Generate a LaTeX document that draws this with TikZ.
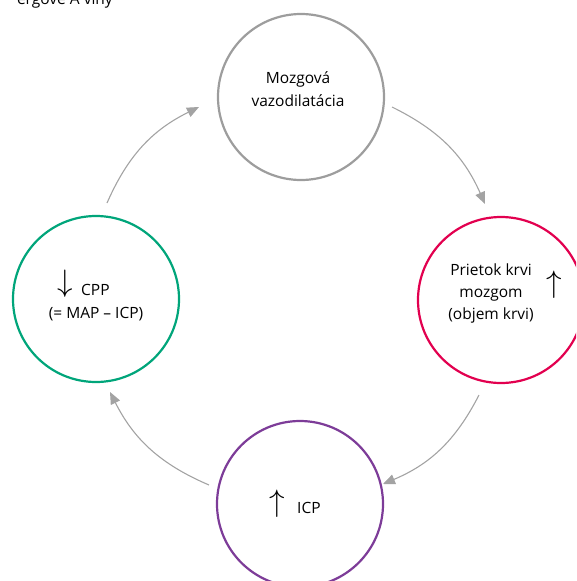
\documentclass[tikz,border=0pt]{standalone}
\usepackage{fontspec}
\setmainfont{Open Sans}
\usepackage{graphicx}
\usetikzlibrary{arrows.meta}
\definecolor{cgray}{HTML}{9D9D9D}
\definecolor{cred}{HTML}{E2004F}
\definecolor{cgreen}{HTML}{00A57A}
\definecolor{cpurple}{HTML}{7D3C98}
\definecolor{agray}{HTML}{A3A3A3}
\begin{document}
\begin{tikzpicture}[x=1pt,y=1pt,
  ring/.style={circle,draw,line width=2.2pt,minimum size=166pt,inner sep=0pt},
  lbl/.style={font=\fontsize{15.5}{20}\selectfont,anchor=base,inner sep=0pt},
  sym/.style={anchor=center,inner sep=0pt},
  flow/.style={draw=agray,line width=1.1pt,-{Triangle[length=12pt,width=10pt]},bend left=20}]
\useasboundingbox (0,0) rectangle (576,-581);
\clip (0,0) rectangle (576,-581);
% caption fragment
\node[lbl,anchor=base east] (cap) at (113,-4) {ergové A vlny};
% circles
\node[ring,draw=cgray] (top) at (301,-97) {};
\node[ring,draw=cred] (right) at (501,-300) {};
\node[ring,draw=cpurple] (bottom) at (300,-504) {};
\node[ring,draw=cgreen] (left) at (96,-299) {};
% top text
\node[lbl] (t1) at (298,-83) {Mozgová};
\node[lbl] (t2) at (298,-106) {vazodilatácia};
% right text
\node[lbl] (r1) at (491,-275) {Prietok krvi};
\node[lbl] (r2) at (491,-297.5) {mozgom};
\node[lbl] (r3) at (491,-319.5) {(objem krvi)};
\node[sym] (rarr) at (554,-284.5) {\scalebox{3.1}{$\uparrow$}};
% left text
\node[sym] (larr) at (65,-284) {\scalebox{3.1}{$\downarrow$}};
\node[lbl,anchor=base west] (l1) at (81,-295) {CPP};
\node[lbl] (l2) at (96,-318) {(= MAP – ICP)};
% bottom text
\node[sym] (barr) at (277,-503.5) {\scalebox{3.1}{$\uparrow$}};
\node[lbl,anchor=base west] (b1) at (297,-513) {ICP};
% arrows
\coordinate (a1s) at (392,-107);
\coordinate (a1e) at (485,-204);
\coordinate (a2s) at (479,-395);
\coordinate (a2e) at (383,-484);
\coordinate (a3s) at (209,-485);
\coordinate (a3e) at (110,-392);
\coordinate (a4s) at (107,-203);
\coordinate (a4e) at (199,-107);
\draw[flow] (a1s) to (a1e);
\draw[flow] (a2s) to (a2e);
\draw[flow] (a3s) to (a3e);
\draw[flow] (a4s) to (a4e);
\end{tikzpicture}
\end{document}
